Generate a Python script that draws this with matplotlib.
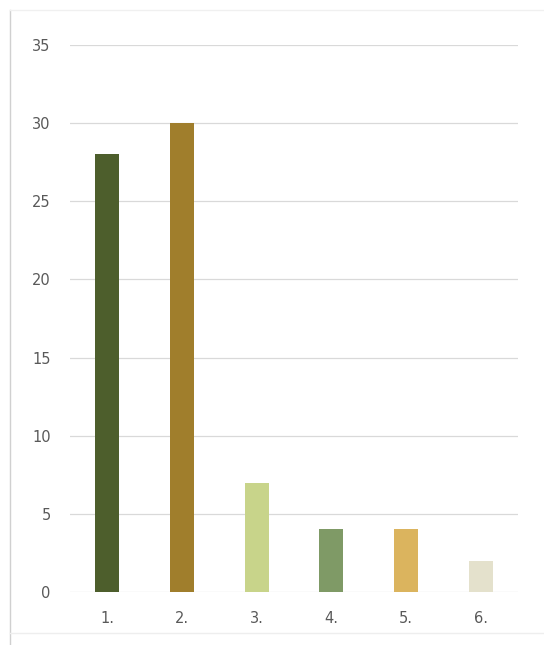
import matplotlib
matplotlib.use("Agg")
import matplotlib.pyplot as plt
from matplotlib.lines import Line2D

categories = ["1.", "2.", "3.", "4.", "5.", "6."]
values = [28, 30, 7, 4, 4, 2]
colors = ["#4d5e2c", "#a07e2c", "#c8d48a", "#7f9a66", "#dbb45e", "#e4e1cc"]
yticks = [0, 5, 10, 15, 20, 25, 30, 35]

fig = plt.figure(figsize=(5.44, 6.45), dpi=100)
ax = fig.add_axes([0.1287, 0.0822, 0.8235, 0.848])

x = range(len(categories))
ax.bar(x, values, width=0.32, color=colors, zorder=3)

ax.set_xlim(-0.5, 5.5)
ax.set_ylim(0, 35)
ax.set_yticks(yticks)
ax.set_xticks(list(x))
ax.set_xticklabels(categories)
ax.grid(axis="y", color="#d9d9d9", linewidth=0.9, zorder=0)
for s in ax.spines.values():
    s.set_visible(False)
ax.tick_params(length=0, colors="#595959", labelsize=10.5)
ax.tick_params(axis="y", pad=14)
ax.tick_params(axis="x", pad=14)

# faint outer frame of the original chart box
fig.add_artist(Line2D([0.019, 0.019], [0.0, 0.985], color="#d0d0d0", linewidth=1))
fig.add_artist(Line2D([0.019, 1.0], [0.985, 0.985], color="#f0f0f0", linewidth=1))
fig.add_artist(Line2D([0.019, 1.0], [0.018, 0.018], color="#eeeeee", linewidth=1))

fig.savefig("out.png", dpi=100)
